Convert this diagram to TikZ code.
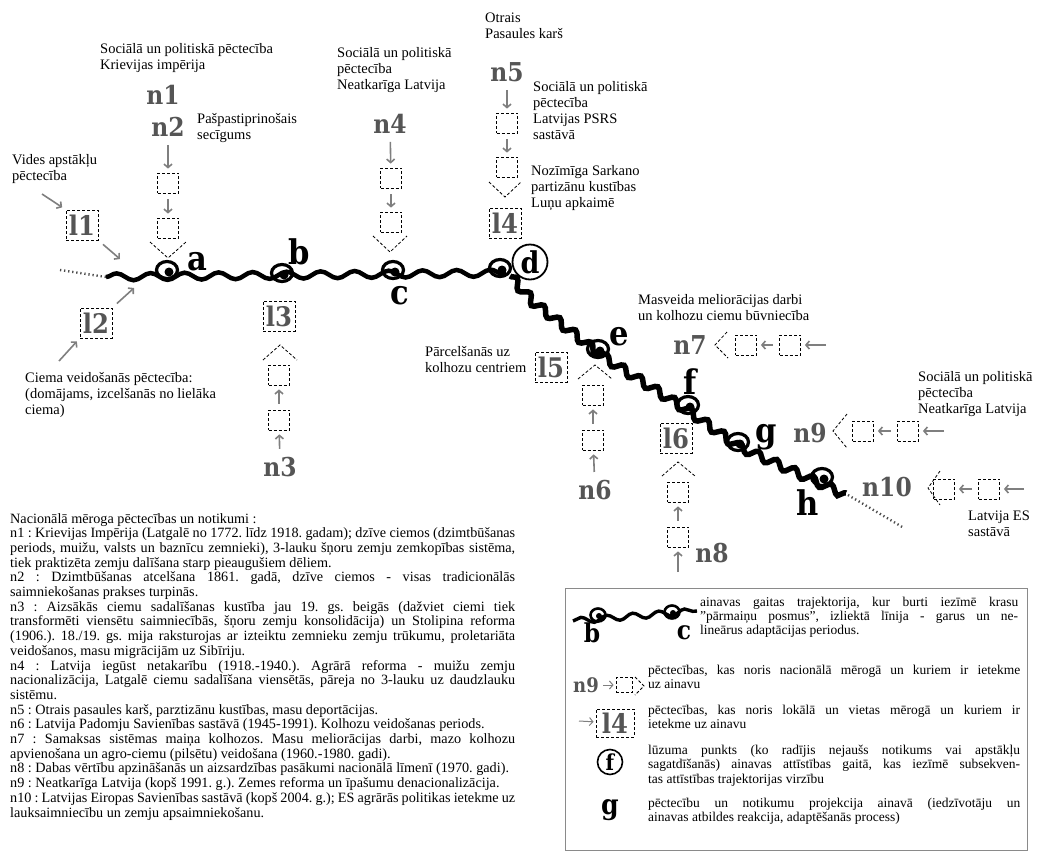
\documentclass[tikz,border=0pt]{standalone}
\usepackage{fontspec}
\setmainfont{Liberation Serif}
\newfontfamily\slab{DejaVu Serif}[FakeStretch=0.9]
\usetikzlibrary{arrows.meta,decorations.pathmorphing}
\definecolor{labgray}{HTML}{555555}
\definecolor{arrgray}{HTML}{7F7F7F}
\definecolor{framegray}{HTML}{8A8A8A}
\tikzset{
  curl/.pic={\draw[line width=3.2pt] (0,0) ellipse (10.5 and 8.5); \fill (2,2) circle (4.5);},
  smallcurl/.pic={\draw[line width=2.6pt] (0,0) ellipse (7.5 and 6.5); \fill (1,1) circle (3);}
}
\begin{document}
\begin{tikzpicture}[x=1pt,y=-1pt,
  lbl/.style={anchor=north west, inner sep=0pt, align=left, font=\fontsize{14.5}{16}\selectfont},
  nlab/.style={font=\slab\bfseries\fontsize{26}{26}\selectfont, text=labgray, inner sep=2pt},
  evlab/.style={font=\slab\bfseries\fontsize{34}{34}\selectfont, inner sep=1pt},
  lbox/.style={draw, line width=0.9pt, dash pattern=on 3pt off 2pt, minimum width=32pt, minimum height=30pt, inner sep=0pt, font=\slab\bfseries\fontsize{27}{27}\selectfont, text=labgray},
  sbox/.style={draw, line width=0.8pt, dash pattern=on 3pt off 2pt, minimum width=21pt, minimum height=20pt, inner sep=0pt},
  chev/.style={line width=0.8pt, dash pattern=on 3pt off 2pt},
  garr/.style={draw=arrgray, line width=1.6pt, -{Straight Barb[length=3.5pt,width=8pt]}, shorten <=6pt, shorten >=4pt},
  traj/.style={line width=4.5pt, decorate, decoration={snake, amplitude=3.5pt, segment length=34pt}},
  dotend/.style={line width=2.4pt, dash pattern=on 1.3pt off 2.8pt, black!70},
  jtext/.style={anchor=north west, inner sep=0pt, align=justify},
]
\useasboundingbox (0,0) rectangle (1037,860);

% ---------- trajectory ----------
\draw[dotend] (60,270) -- (106,277);
\draw[traj] (106,277) -- (506,273);
\draw[line width=5.5pt, decorate, decoration={snake, amplitude=4pt, segment length=20pt}]
  (510,276) -- (528,296) -- (600,352) -- (688,408) -- (740,445) -- (802,473) -- (824,483) -- (846,493);
\draw[dotend] (848,495) -- (904,528);
\pic at (167,270) {curl};
\pic at (282,273) {curl};
\pic at (393,270) {curl};
\pic at (500,268) {curl};
\pic at (598,349) {curl};
\pic at (688,405) {curl};
\pic at (738,442) {curl};
\pic at (822,477) {curl};

\node[evlab] (ea) at (197,262) {a};
\node[evlab] (eb) at (299,252) {b};
\node[evlab] (ec) at (400,296) {c};
\node[circle, draw, line width=1.8pt, minimum size=35pt, inner sep=0pt, fill=white, font=\slab\bfseries\fontsize{30}{30}\selectfont] (ed) at (530,262) {d};
\node[evlab] (ee) at (619,337) {e};
\node[evlab] (ef) at (690,382) {f};
\node[evlab] (eg) at (766,437) {g};
\node[evlab] (eh) at (808,503) {h};

% ---------- top texts ----------
\node[lbl] (tn1) at (100,43) {Sociālā un politiskā pēctecība\\Krievijas impērija};
\node[lbl] (tn2) at (197,113) {Pašpastiprinošais\\secīgums};
\node[lbl] (tl1) at (12,154) {Vides apstākļu\\pēctecība};
\node[lbl] (tl2) at (25,372) {Ciema veidošanās pēctecība:\\(domājams, izcelšanās no lielāka\\ciema)};
\node[lbl] (tn4) at (337,47) {Sociālā un politiskā\\pēctecība\\Neatkarīga Latvija};
\node[lbl] (tn5) at (485,13) {Otrais\\Pasaules karš};
\node[lbl] (tn5b) at (533,81) {Sociālā un politiskā\\pēctecība\\Latvijas PSRS\\sastāvā};
\node[lbl] (tl4) at (531,165) {Nozīmīga Sarkano\\partizānu kustības\\Luņu apkaimē};
\node[lbl] (tl5) at (425,346) {Pārcelšanās uz\\kolhozu centriem};
\node[lbl] (tn7) at (638,294) {Masveida meliorācijas darbi\\un kolhozu ciemu būvniecība};
\node[lbl] (tn9) at (918,371) {Sociālā un politiskā\\pēctecība\\Neatkarīga Latvija};
\node[lbl] (tn10) at (968,511) {Latvija ES\\sastāvā};

% ---------- n1 / n2 chain ----------
\node[nlab] (n1) at (163,95) {n1};
\node[nlab] (n2) at (168,127) {n2};
\node[sbox] (s21) at (168,183) {};
\node[sbox] (s22) at (168,228) {};
\draw[garr] (n2) -- (s21);
\draw[garr] (s21) -- (s22);
\draw[chev] (150,242) -- (168,258) -- (186,242);

% ---------- l1, l2 ----------
\node[lbox] (l1) at (82,225) {l1};
\coordinate (vd) at (42,194);
\coordinate (la1) at (120,259);
\draw[garr, shorten <=0pt] (vd) -- (l1.north west);
\draw[garr, shorten >=0pt] (l1.south east) -- (la1);
\node[lbox] (l2) at (96,323) {l2};
\coordinate (cm) at (59,361);
\coordinate (la2) at (134,288);
\draw[garr, shorten <=0pt] (cm) -- (l2.south west);
\draw[garr, shorten >=0pt] (l2.north east) -- (la2);

% ---------- n3 chain ----------
\node[lbox] (l3) at (279,316) {l3};
\draw[chev] (263,360) -- (280,345) -- (297,360);
\node[sbox] (s31) at (279,375) {};
\node[sbox] (s32) at (279,420) {};
\node[nlab] (n3) at (280,467) {n3};
\draw[garr] (n3) -- (s32);
\draw[garr] (s32) -- (s31);

% ---------- n4 chain ----------
\node[nlab] (n4) at (390,124) {n4};
\node[sbox] (s41) at (391,178) {};
\node[sbox] (s42) at (391,222) {};
\draw[garr] (n4) -- (s41);
\draw[garr] (s41) -- (s42);
\draw[chev] (373,236) -- (390,252) -- (407,236);

% ---------- n5 chain ----------
\node[nlab] (n5) at (507,72) {n5};
\node[sbox] (s51) at (507,123) {};
\node[sbox] (s52) at (507,167) {};
\draw[garr] (n5) -- (s51);
\draw[garr] (s51) -- (s52);
\draw[chev] (489,182) -- (505,197) -- (521,182);
\node[lbox] (l4) at (505,223) {l4};

% ---------- n6 chain ----------
\node[lbox] (l5) at (551,367) {l5};
\draw[chev] (578,379) -- (595,365) -- (612,379);
\node[sbox] (s61) at (593,395) {};
\node[sbox] (s62) at (593,440) {};
\node[nlab] (n6) at (595,490) {n6};
\draw[garr] (n6) -- (s62);
\draw[garr] (s62) -- (s61);

% ---------- n8 chain ----------
\node[lbox] (l6) at (676,438) {l6};
\draw[chev] (662,476) -- (678,462) -- (695,476);
\node[sbox] (s81) at (678,492) {};
\node[sbox] (s82) at (678,537) {};
\coordinate (a8) at (678,572);
\draw[garr] (s82) -- (s81);
\draw[garr, shorten <=0pt] (a8) -- (s82);
\node[nlab] (n8) at (712,553) {n8};

% ---------- n7 chain ----------
\node[nlab] (n7) at (690,345) {n7};
\draw[chev] (727,332) -- (715,345) -- (728,358);
\node[sbox] (s71) at (746,345) {};
\node[sbox] (s72) at (790,345) {};
\coordinate (a7) at (826,345);
\draw[garr] (s72) -- (s71);
\draw[garr, shorten <=0pt] (a7) -- (s72);

% ---------- n9 chain ----------
\node[nlab] (n9) at (810,433) {n9};
\draw[chev] (847,414) -- (833,431) -- (847,448);
\node[sbox] (s91) at (863,431) {};
\node[sbox] (s92) at (908,431) {};
\coordinate (a9) at (944,431);
\draw[garr] (s92) -- (s91);
\draw[garr, shorten <=0pt] (a9) -- (s92);

% ---------- n10 chain ----------
\node[nlab] (n10) at (887,487) {n10};
\draw[chev] (940,471) -- (928,488) -- (940,505);
\node[sbox] (s101) at (944,489) {};
\node[sbox] (s102) at (989,489) {};
\coordinate (a10) at (1024,489);
\draw[garr] (s102) -- (s101);
\draw[garr, shorten <=0pt] (a10) -- (s102);

% ---------- body text ----------
\node[jtext, text width=505pt, font=\fontsize{14.2}{14.7}\selectfont] (body) at (10,513) {%
\parindent=0pt\frenchspacing\hyphenpenalty=10000\exhyphenpenalty=10000\tolerance=9999
Nacionālā mēroga pēctecības un notikumi :\\
n1 : Krievijas Impērija (Latgalē no 1772. līdz 1918. gadam); dzīve ciemos (dzimtbūšanas\linebreak
periods, muižu, valsts un baznīcu zemnieki), 3-lauku šņoru zemju zemkopības sistēma,\linebreak
tiek praktizēta zemju dalīšana starp pieaugušiem dēliem.\\
n2 : Dzimtbūšanas atcelšana 1861. gadā, dzīve ciemos - visas tradicionālās\linebreak
saimniekošanas prakses turpinās.\\
n3 : Aizsākās ciemu sadalīšanas kustība jau 19. gs. beigās (dažviet ciemi tiek\linebreak
transformēti viensētu saimniecībās, šņoru zemju konsolidācija) un Stolipina reforma\linebreak
(1906.). 18./19. gs. mija raksturojas ar izteiktu zemnieku zemju trūkumu, proletariāta\linebreak
veidošanos, masu migrācijām uz Sibīriju.\\
n4 : Latvija iegūst netakarību (1918.-1940.). Agrārā reforma - muižu zemju\linebreak
nacionalizācija, Latgalē ciemu sadalīšana viensētās, pāreja no 3-lauku uz daudzlauku\linebreak
sistēmu.\\
n5 : Otrais pasaules karš, parztizānu kustības, masu deportācijas.\\
n6 : Latvija Padomju Savienības sastāvā (1945-1991). Kolhozu veidošanas periods.\\
n7 : Samaksas sistēmas maiņa kolhozos. Masu meliorācijas darbi, mazo kolhozu\linebreak
apvienošana un agro-ciemu (pilsētu) veidošana (1960.-1980. gadi).\\
n8 : Dabas vērtību apzināšanās un aizsardzības pasākumi nacionālā līmenī (1970. gadi).\\
n9 : Neatkarīga Latvija (kopš 1991. g.). Zemes reforma un īpašumu denacionalizācija.\\
n10 : Latvijas Eiropas Savienības sastāvā (kopš 2004. g.); ES agrārās politikas ietekme uz\linebreak
lauksaimniecību un zemju apsaimniekošanu.};

% ---------- legend ----------
\node[draw=framegray, line width=1pt, minimum width=462pt, minimum height=262pt, anchor=north west, inner sep=0pt] (leg) at (565,588) {};

\draw[line width=3.4pt, decorate, decoration={snake, amplitude=3pt, segment length=26pt}] (573,621) -- (697,611);
\pic at (598,615) {smallcurl};
\pic at (672,612) {smallcurl};
\node[evlab, font=\slab\bfseries\fontsize{26}{26}\selectfont] (lb) at (592,633) {b};
\node[evlab, font=\slab\bfseries\fontsize{26}{26}\selectfont] (lc) at (684,633) {c};
\node[jtext, text width=318pt, font=\fontsize{13.5}{14.2}\selectfont] (lt1) at (700,597) {%
\parindent=0pt\frenchspacing\hyphenpenalty=10000\tolerance=9999
ainavas gaitas trajektorija, kur burti iezīmē krasu\linebreak
"pārmaiņu posmus", izliektā līnija - garus un ne-\linebreak
lineārus adaptācijas periodus.};

\node[nlab, font=\slab\bfseries\fontsize{20}{20}\selectfont] (ln9) at (586,685) {n9};
\node[sbox, minimum width=16pt, minimum height=15pt] (ls9) at (624,685) {};
\draw[garr, line width=1pt, shorten <=2pt, shorten >=2pt] (ln9) -- (ls9);
\draw[chev] (635,677) -- (644,686) -- (635,695);
\node[jtext, text width=372pt, font=\fontsize{13.5}{14.2}\selectfont] (lt2) at (648,665) {%
\parindent=0pt\frenchspacing\hyphenpenalty=10000\tolerance=9999
pēctecības, kas noris nacionālā mērogā un kuriem ir ietekme\linebreak
uz ainavu};

\node[lbox, minimum width=38pt, minimum height=28pt] (ll4) at (615,723) {l4};
\coordinate (al4) at (579,721);
\draw[garr, line width=1pt, shorten <=0pt, shorten >=2pt] (al4) -- (ll4);
\node[jtext, text width=372pt, font=\fontsize{13.5}{14.2}\selectfont] (lt3) at (648,705) {%
\parindent=0pt\frenchspacing\hyphenpenalty=10000\tolerance=9999
pēctecības, kas noris lokālā un vietas mērogā un kuriem ir\linebreak
ietekme uz ainavu};

\node[circle, draw, line width=1.6pt, minimum size=25pt, inner sep=0pt, font=\slab\bfseries\fontsize{22}{22}\selectfont] (lf) at (610,762) {f};
\node[jtext, text width=372pt, font=\fontsize{13.5}{14.2}\selectfont] (lt4) at (648,745) {%
\parindent=0pt\frenchspacing\hyphenpenalty=10000\tolerance=9999
lūzuma punkts (ko radījis nejaušs notikums vai apstākļu\linebreak
sagatdīšanās) ainavas attīstības gaitā, kas iezīmē subsekven-\linebreak
tas attīstības trajektorijas virzību};

\node[evlab, font=\slab\bfseries\fontsize{28}{28}\selectfont] (lg) at (610,810) {g};
\node[jtext, text width=372pt, font=\fontsize{13.5}{14.2}\selectfont] (lt5) at (648,798) {%
\parindent=0pt\frenchspacing\hyphenpenalty=10000\tolerance=9999
pēctecību un notikumu projekcija ainavā (iedzīvotāju un\linebreak
ainavas atbildes reakcija, adaptēšanās process)};
\end{tikzpicture}
\end{document}
